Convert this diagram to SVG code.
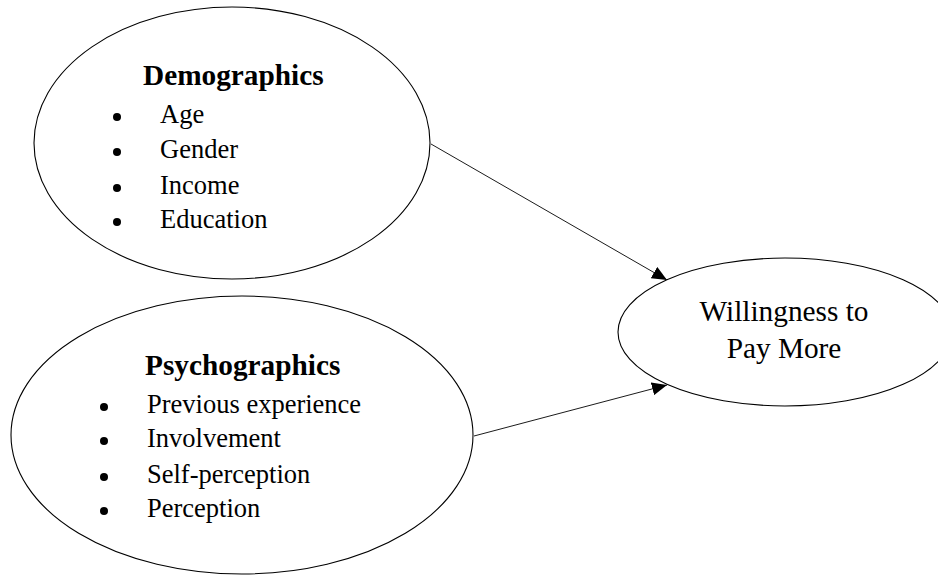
<svg xmlns="http://www.w3.org/2000/svg" width="938" height="575" viewBox="0 0 938 575">
<style>
.node{fill:#fff;stroke:#000;stroke-width:1.1}
.h{font-family:"Liberation Serif","Times New Roman",serif;font-weight:bold;font-size:29.3px;fill:#000}
.t{font-family:"Liberation Serif","Times New Roman",serif;font-size:26.5px;fill:#000}
.w{font-family:"Liberation Serif","Times New Roman",serif;font-size:29.3px;fill:#000}
.b{fill:#000}
.edge{stroke:#000;stroke-width:0.9;fill:none}
</style>
<defs>
<marker id="arr" markerUnits="userSpaceOnUse" markerWidth="16" markerHeight="13" refX="15" refY="6.5" orient="auto">
<path d="M0,0 L15,6.5 L0,13 z" fill="#000"/>
</marker>
</defs>
<rect width="938" height="575" fill="#fff"/>
<g id="connectors">
<line class="edge" x1="431" y1="144" x2="667" y2="280" marker-end="url(#arr)"/>
<line class="edge" x1="474" y1="436" x2="667" y2="385" marker-end="url(#arr)"/>
</g>
<g id="demographics">
<ellipse class="node" cx="232" cy="143" rx="198" ry="136"/>
<text class="h" x="143" y="85">Demographics</text>
<circle class="b" cx="117" cy="117" r="4"/>
<text class="t" x="160" y="123">Age</text>
<circle class="b" cx="117" cy="152" r="4"/>
<text class="t" x="160" y="158">Gender</text>
<circle class="b" cx="117" cy="188" r="4"/>
<text class="t" x="160" y="194">Income</text>
<circle class="b" cx="117" cy="222" r="4"/>
<text class="t" x="160" y="228">Education</text>
</g>
<g id="psychographics">
<ellipse class="node" cx="242" cy="435" rx="231" ry="139"/>
<text class="h" x="145" y="375">Psychographics</text>
<circle class="b" cx="104" cy="407" r="4"/>
<text class="t" x="147" y="413">Previous experience</text>
<circle class="b" cx="104" cy="441" r="4"/>
<text class="t" x="147" y="447">Involvement</text>
<circle class="b" cx="104" cy="477" r="4"/>
<text class="t" x="147" y="483">Self-perception</text>
<circle class="b" cx="104" cy="511" r="4"/>
<text class="t" x="147" y="517">Perception</text>
</g>
<g id="willingness">
<ellipse class="node" cx="785" cy="332" rx="167" ry="74"/>
<text class="w" x="784" y="321" text-anchor="middle">Willingness to</text>
<text class="w" x="784" y="358" text-anchor="middle">Pay More</text>
</g>
</svg>
